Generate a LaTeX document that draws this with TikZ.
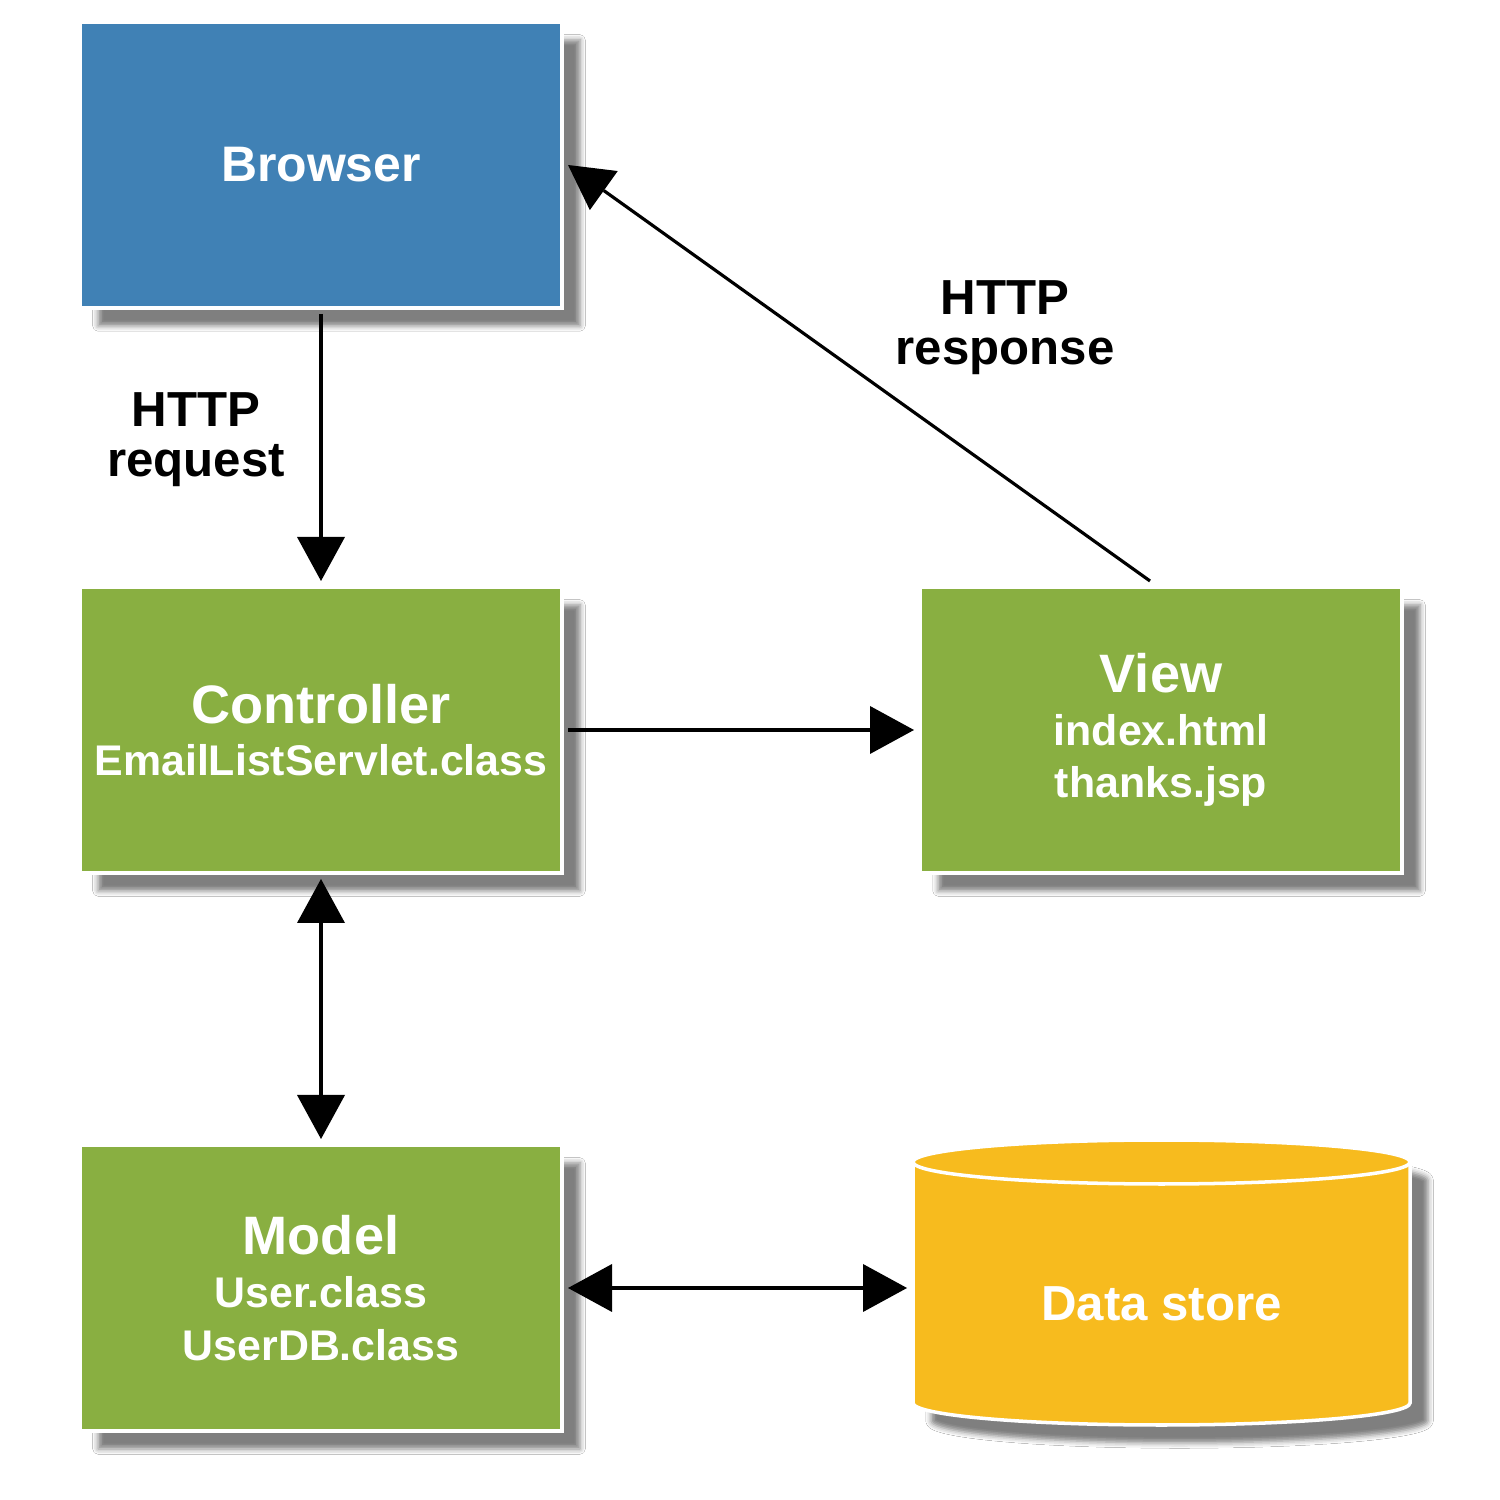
\documentclass[tikz,border=0pt]{standalone}
\usepackage{fontspec}
\setmainfont{Liberation Sans}
\usetikzlibrary{arrows.meta,shadows.blur}
\definecolor{bblue}{RGB}{64,129,181}
\definecolor{bgreen}{RGB}{137,175,65}
\definecolor{byellow}{RGB}{247,187,30}
\newcommand\BoxTitle{\fontsize{15.4pt}{15pt}\selectfont}
\newcommand\BoxSub{\fontsize{12.2pt}{15pt}\selectfont}
\begin{document}
\begin{tikzpicture}[x=0.1mm,y=0.1mm,
  shd/.style={blur shadow={shadow xshift=1.8mm, shadow yshift=-1.8mm, shadow blur radius=1.5pt, shadow opacity=50}},
  box/.style={rectangle, draw=white, line width=1pt, minimum width=48.2mm, minimum height=28.6mm, text=white, font=\bfseries\fontsize{12.2pt}{15pt}\selectfont, align=center, outer sep=0.6mm, shd},
  tip/.style={Triangle[length=4.4mm,width=4.8mm,fill=black,line width=0pt]},
  conn/.style={draw=black, line width=0.9pt, draw opacity=1, fill opacity=1, -{Triangle[length=4.4mm,width=4.8mm,fill=black,line width=0pt]}},
  conntwo/.style={draw=black, line width=0.9pt, draw opacity=1, fill opacity=1, {Triangle[length=4.4mm,width=4.8mm,fill=black,line width=0pt]}-{Triangle[length=4.4mm,width=4.8mm,fill=black,line width=0pt]}},
  lbl/.style={font=\bfseries\fontsize{14pt}{14.2pt}\selectfont, align=center, text=black}
]
\useasboundingbox (0,0) rectangle (1500,1500);
\fill[white] (0,0) rectangle (1500,1500);

% boxes
\node[box, fill=bblue] (browser) at (321,1335) {\fontsize{14.2pt}{15pt}\selectfont Browser};
\node[box, fill=bgreen] (controller) at (321,770) {\BoxTitle Controller\\\BoxSub EmailListServlet.class};
\node[box, fill=bgreen] (view) at (1161,770) {\BoxTitle View\\\BoxSub index.html\\\BoxSub thanks.jsp};
\node[box, fill=bgreen] (model) at (321,212) {\BoxTitle Model\\\BoxSub User.class\\\BoxSub UserDB.class};

% data store cylinder
\path[fill=byellow, draw=white, line width=1pt, shd] (913,338) -- (913,97)
  arc[start angle=180, end angle=360, x radius=24.85mm, y radius=2.2mm] -- (1410,338)
  arc[start angle=0, end angle=180, x radius=24.85mm, y radius=2.2mm] -- cycle;
\draw[white, line width=1pt] (913,338) arc[start angle=180, end angle=360, x radius=24.85mm, y radius=2.2mm];
\node[text=white, font=\bfseries\fontsize{14pt}{15pt}\selectfont, minimum width=49.7mm, minimum height=24.1mm, outer sep=0.6mm] (ds) at (1161.5,196) {Data store};

% connectors
\draw[conn] (browser.south) -- (controller.north);
\draw[conn] ([xshift=-1.1mm]view.north) -- (browser.east);
\draw[conn] (controller.east) -- (view.west);
\draw[conntwo] (controller.south) -- (model.north);
\draw[conntwo] (model.east) -- (model.east -| ds.west);

% labels
\node[lbl] (lreq) at (196,1060) {HTTP\\request};
\node[lbl] (lresp) at (1005,1172) {HTTP\\response};
\end{tikzpicture}
\end{document}
